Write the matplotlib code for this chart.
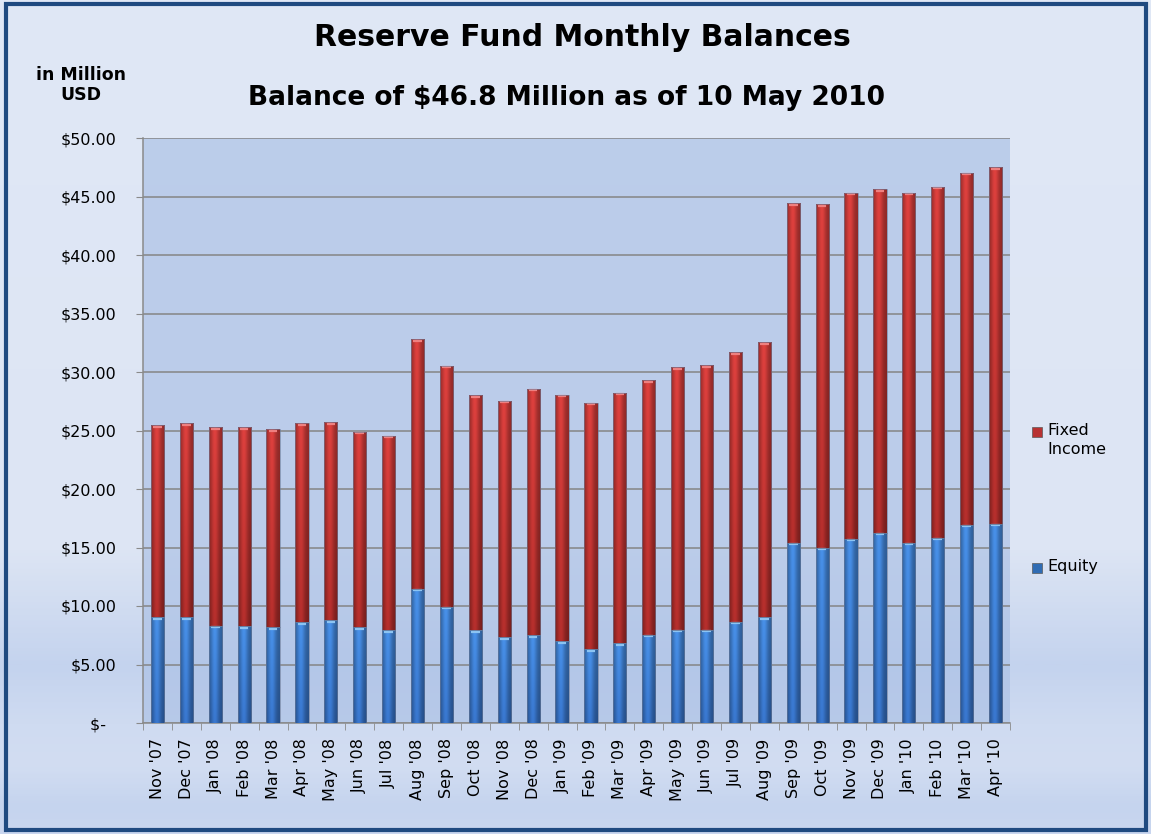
import numpy as np
import matplotlib
matplotlib.use('Agg')
import matplotlib.pyplot as plt
from matplotlib.patches import Rectangle
from matplotlib.colors import LinearSegmentedColormap

# --- Data (million USD) ---
months = ["Nov '07", "Dec '07", "Jan '08", "Feb '08", "Mar '08", "Apr '08",
          "May '08", "Jun '08", "Jul '08", "Aug '08", "Sep '08", "Oct '08",
          "Nov '08", "Dec '08", "Jan '09", "Feb '09", "Mar '09", "Apr '09",
          "May '09", "Jun '09", "Jul '09", "Aug '09", "Sep '09", "Oct '09",
          "Nov '09", "Dec '09", "Jan '10", "Feb '10", "Mar '10", "Apr '10"]
equity = [9.03, 9.03, 8.29, 8.26, 8.17, 8.60, 8.77, 8.17, 7.91, 11.49,
          9.94, 7.91, 7.31, 7.49, 6.97, 6.29, 6.80, 7.56, 7.97, 7.97,
          8.67, 9.03, 15.40, 15.00, 15.74, 16.25, 15.40, 15.83, 16.94, 17.02]
total = [25.43, 25.63, 25.26, 25.26, 25.09, 25.63, 25.69, 24.91, 24.57, 32.80,
         30.54, 28.00, 27.54, 28.54, 28.06, 27.36, 28.23, 29.28, 30.40, 30.57,
         31.68, 32.54, 44.43, 44.35, 45.34, 45.60, 45.34, 45.85, 47.05, 47.48]
fixed_income = [t - e for t, e in zip(total, equity)]

yticks = [0, 5, 10, 15, 20, 25, 30, 35, 40, 45, 50]
# Excel accounting format: zero shown as "$-" with padding on the right
ytick_labels = ['$-  '] + [f'${v:.2f}' for v in yticks[1:]]

W, H = 1151, 834
fig = plt.figure(figsize=(W / 100, H / 100), dpi=100)

# --- background gradient for the whole chart area ---
bg_ax = fig.add_axes([0, 0, 1, 1], zorder=-10)
bg_cmap = LinearSegmentedColormap.from_list('bg', [
    (0.00, '#e0e8f6'), (0.66, '#dde5f4'), (0.80, '#c4d3ee'),
    (0.87, '#cfdbf1'), (0.92, '#d2ddf2'), (0.97, '#c5d4ee'), (1.00, '#c9d6ef')])
bg_ax.imshow(np.linspace(0, 1, 400)[:, None], aspect='auto', cmap=bg_cmap,
             extent=[0, 1, 0, 1])
bg_ax.set_xlim(0, 1)
bg_ax.set_ylim(0, 1)
bg_ax.axis('off')

# dark blue frame
fig.patches.append(Rectangle((6 / W, 4 / H), 1 - 11 / W, 1 - 8 / H,
                             transform=fig.transFigure, fill=False,
                             edgecolor='#1f4a80', linewidth=3.0, zorder=5))

ax = fig.add_axes([143 / W, 1 - 723 / H, 867 / W, 585 / H])
ax.set_facecolor((0.678, 0.76, 0.90, 0.7))

x = np.arange(len(months))
bar_w = 0.46


def shaded(base, lower):
    # cylinder-like shading: bright near centre, dark edges, darker at the bottom
    u = np.linspace(0, 1, 40)
    prof = 0.66 + 0.36 * np.exp(-((u - 0.42) / 0.30) ** 2)
    v = np.linspace(0, 1, 80)[:, None, None]
    col = np.array(base)[None, None, :] * (1 - v) + np.array(lower)[None, None, :] * v
    return np.clip(col * prof[None, :, None], 0, 1)


eq_img = shaded((0.28, 0.56, 0.90), (0.22, 0.46, 0.80))
fi_img = shaded((0.86, 0.25, 0.24), (0.70, 0.18, 0.17))

eq_bars = ax.bar(x, equity, bar_w, color='#3a78c4', edgecolor='none', zorder=2)
fi_bars = ax.bar(x, fixed_income, bar_w, bottom=equity, color='#c0393b',
                 edgecolor='none', zorder=2)

for bars, img, cap in ((eq_bars, eq_img, '#8cc4f2'), (fi_bars, fi_img, '#ee8080')):
    for b in bars:
        x0, y0 = b.get_x(), b.get_y()
        x1, y1 = x0 + b.get_width(), y0 + b.get_height()
        im = ax.imshow(img, extent=[x0, x1, y0, y1], aspect='auto',
                       interpolation='bilinear', zorder=3)
        im.set_clip_path(b)
        ax.plot([x0 + 0.08, x1 - 0.08], [y1 - 0.12, y1 - 0.12], color=cap,
                lw=1.6, solid_capstyle='butt', zorder=4)
        ax.add_patch(Rectangle((x0, y0), x1 - x0, y1 - y0, fill=False,
                               edgecolor='#6d7c99', linewidth=0.6, alpha=0.7,
                               zorder=4))

ax.set_xlim(-0.5, len(months) - 0.5)
ax.set_ylim(0, 50)
ax.set_yticks(yticks)
ax.set_yticklabels(ytick_labels)
ax.yaxis.grid(True, color='#858585', linewidth=1.1, zorder=1)
ax.set_axisbelow(True)

ax.set_xticks(x)
ax.set_xticklabels(months, rotation=90)
ax.set_xticks(np.arange(len(months) + 1) - 0.5, minor=True)
ax.tick_params(axis='x', which='major', length=0, pad=11)
ax.tick_params(axis='x', which='minor', length=5, color='#8a8a8a', direction='out')
ax.tick_params(axis='y', length=5, color='#8a8a8a', direction='out', pad=14)
for lab in ax.get_xticklabels() + ax.get_yticklabels():
    lab.set_fontsize(11.5)
    lab.set_color('black')
for lab in ax.get_yticklabels():
    lab.set_horizontalalignment('right')

for side in ('top', 'right'):
    ax.spines[side].set_visible(False)
for side in ('left', 'bottom'):
    ax.spines[side].set_color('#8a8a8a')
    ax.spines[side].set_linewidth(1.1)

# --- titles ---
fig.text(582 / W, 1 - 37 / H, 'Reserve Fund Monthly Balances', ha='center',
         va='center', fontsize=21.5, fontweight='bold')
fig.text(567 / W, 1 - 98 / H, 'Balance of $46.8 Million as of 10 May 2010',
         ha='center', va='center', fontsize=19, fontweight='bold')
fig.text(81 / W, 1 - 85 / H, 'in Million\nUSD', ha='center', va='center',
         fontsize=12.5, fontweight='bold', linespacing=1.2)

# --- legend (Excel-style, placed at the right) ---
for yc, label, face in ((432, 'Fixed\nIncome', '#b83232'), (568, 'Equity', '#2f6cb4')):
    fig.patches.append(Rectangle(((1032) / W, 1 - (yc + 5) / H), 10 / W, 10 / H,
                                 transform=fig.transFigure, facecolor=face,
                                 edgecolor='#5a5a5a', linewidth=0.5, zorder=6))
    fig.text(1047 / W, 1 - (yc - 9) / H, label, ha='left', va='top',
             fontsize=11.5, linespacing=1.3)

fig.savefig('out.png', dpi=100)
